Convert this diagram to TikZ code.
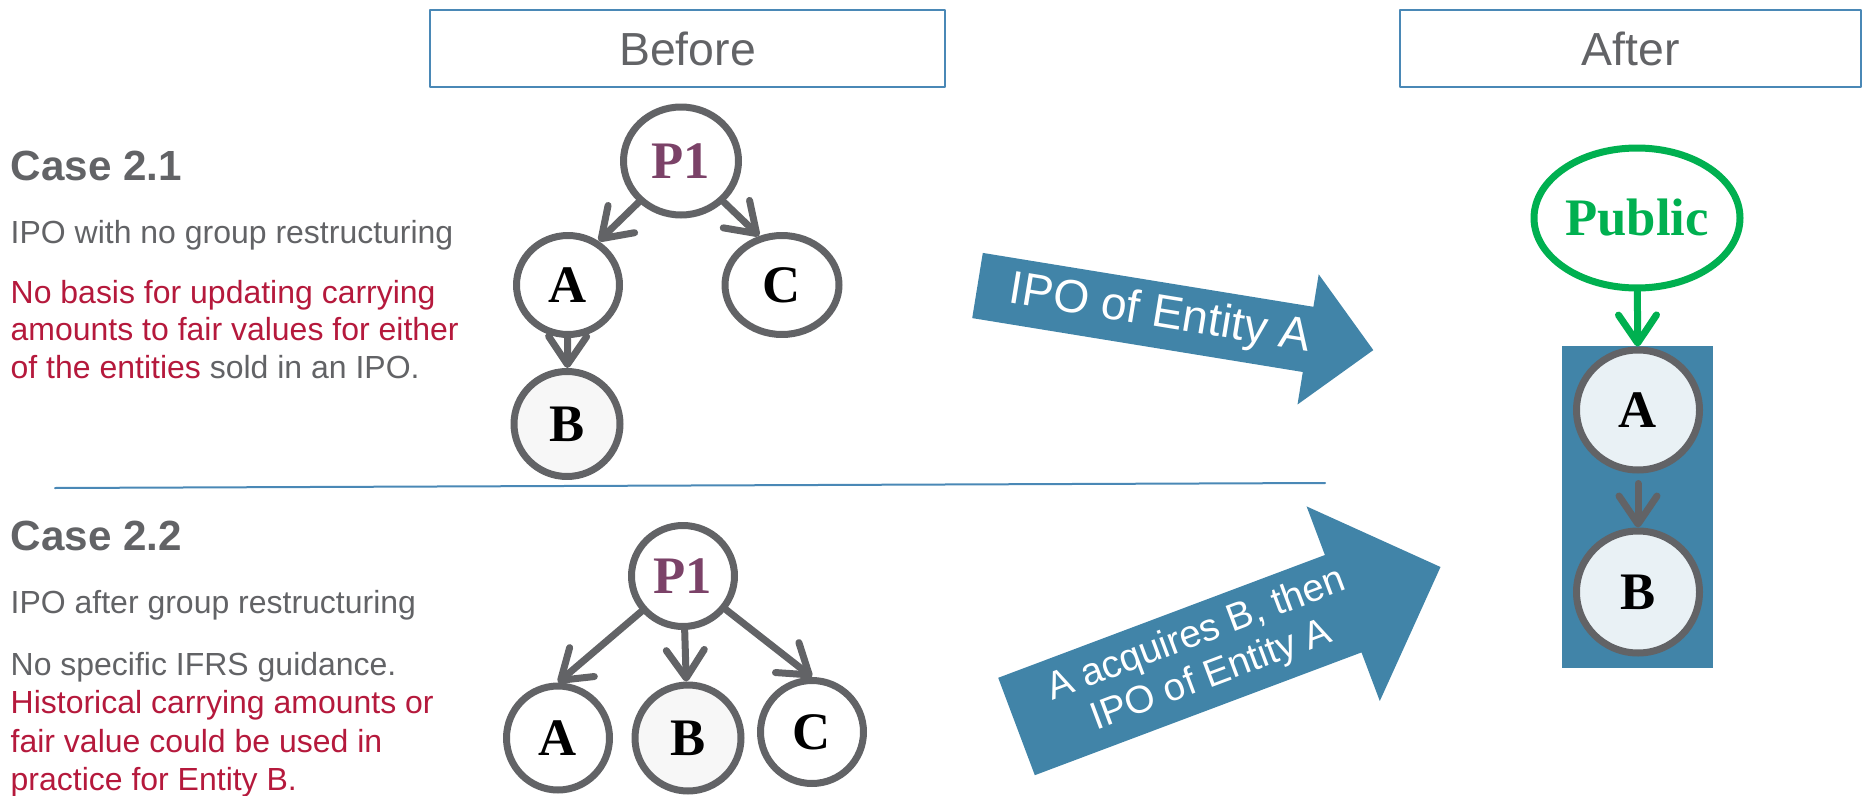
\documentclass[tikz,border=0pt]{standalone}
\usepackage{fontspec}
\setmainfont{Liberation Sans}
\newfontfamily\entfont{Liberation Serif}
\usetikzlibrary{arrows.meta,shapes.geometric}

\definecolor{txtgrey}{RGB}{98,99,102}
\definecolor{kred}{RGB}{181,25,60}
\definecolor{kblue}{RGB}{65,132,168}
\definecolor{boxblue}{RGB}{74,136,182}
\definecolor{ppurple}{RGB}{123,66,104}
\definecolor{pgreen}{RGB}{0,176,80}
\definecolor{entfill}{RGB}{233,241,245}

\tikzset{
  ent/.style={ellipse,draw=txtgrey,line width=0.7mm,fill=white,inner sep=0pt,
    font=\entfont\bfseries\fontsize{15}{18}\selectfont},
  own/.style={draw=txtgrey,line width=0.7mm,-{Straight Barb[length=2.8mm,width=3.8mm,round]}},
  headbox/.style={draw=boxblue,line width=0.2mm,minimum height=7.7mm,inner sep=0pt,
    text=txtgrey,font=\fontsize{13.2}{16}\selectfont},
  casettl/.style={anchor=base west,inner sep=0pt,text=txtgrey,font=\bfseries\fontsize{12}{14}\selectfont},
  desc/.style={anchor=base west,inner sep=0pt,text=txtgrey,font=\fontsize{9.1}{10.7}\selectfont}
}

\begin{document}
\begin{tikzpicture}[x=0.1mm,y=-0.1mm,line cap=round,line join=round]
\useasboundingbox (0,0) rectangle (1871,796);

% headings
\node[headbox,minimum width=51.5mm] (before) at (687.5,48.5) {Before};
\node[headbox,minimum width=46.1mm] (after) at (1630.5,48.5) {After};

% left column
\node[casettl] (c21ttl) at (10,180) {Case 2.1};
\node[desc] (c21sub) at (10,243) {IPO with no group restructuring};
\node[desc,text=kred] (c21n1) at (10,303) {No basis for updating carrying};
\node[desc,text=kred] (c21n2) at (10,340) {amounts to fair values for either};
\node[desc] (c21n3) at (10,378) {{\color{kred}of the entities} sold in an IPO.};

\node[casettl] (c22ttl) at (10,550) {Case 2.2};
\node[desc] (c22sub) at (10,613) {IPO after group restructuring};
\node[desc] (c22n1) at (10,675) {No specific IFRS guidance.};
\node[desc,text=kred] (c22n2) at (10,713) {Historical carrying amounts or};
\node[desc,text=kred] (c22n3) at (10,752) {fair value could be used in};
\node[desc,text=kred] (c22n4) at (10,790) {practice for Entity B.};

\draw[boxblue,line width=0.2mm] (55,488) -- (1325,483);

% before, case 2.1
\node[ent,minimum width=11.5mm,minimum height=10.8mm,text=ppurple] (p1a) at (681,161) {P1};
\node[ent,minimum width=10.3mm,minimum height=9.9mm] (a1) at (568,285) {A};
\node[ent,minimum width=11.4mm,minimum height=9.9mm] (c1) at (782,285) {C};
\node[ent,fill=white!97!black,minimum width=10.6mm,minimum height=10.5mm] (b1) at (567,424) {B};
\draw[own] (p1a) -- (a1.55);
\draw[own] (p1a) -- (c1.115);
\draw[own] (a1) -- (b1);

% before, case 2.2
\node[ent,minimum width=10.3mm,minimum height=10.1mm,text=ppurple] (p1b) at (683,576) {P1};
\node[ent,minimum width=10.3mm,minimum height=10.4mm] (a2) at (558,738) {A};
\node[ent,fill=white!97!black,minimum width=10.6mm,minimum height=10.6mm] (b2) at (688,738) {B};
\node[ent,minimum width=10.3mm,minimum height=10.3mm] (c2) at (812,732) {C};
\draw[own] (p1b) -- (a2.north);
\draw[own] (p1b) -- (b2);
\draw[own] (p1b) -- (c2.north);

% block arrows
\fill[kblue] (982.8,252.9) -- (1313.4,306.8) -- (1318.7,274.3) -- (1373.3,350.1)
  -- (1297.5,404.5) -- (1302.8,372.0) -- (972.2,318.1) -- cycle;
\node[rotate=-9.26,text=white,inner sep=0pt,font=\fontsize{13.2}{16}\selectfont] (ipo1) at (1160,315) {IPO of Entity A};

\fill[kblue] (998.2,677.8) -- (1324.9,555.0) -- (1306.6,506.4) -- (1440.5,567.0)
  -- (1379.8,701.0) -- (1361.5,652.4) -- (1034.8,775.2) -- cycle;
\node[rotate=20.6,text=white,inner sep=0pt,align=center,font=\fontsize{11}{12.4}\selectfont] (ipo2) at (1204,656) {A acquires B, then\\IPO of Entity A};

% after
\fill[kblue] (1562,346) rectangle (1713,668);
\node[ent,draw=pgreen,text=pgreen,minimum width=20.6mm,minimum height=14.0mm] (pub) at (1637,218) {Public};
\node[ent,fill=entfill,minimum width=12.3mm,minimum height=12.0mm] (a3) at (1638,410) {A};
\node[ent,fill=entfill,minimum width=12.3mm,minimum height=12.2mm] (b3) at (1638,592) {B};
\draw[own,draw=pgreen] (pub) -- (a3);
\draw[own,shorten <=1mm] (a3) -- (b3);
\end{tikzpicture}
\end{document}
